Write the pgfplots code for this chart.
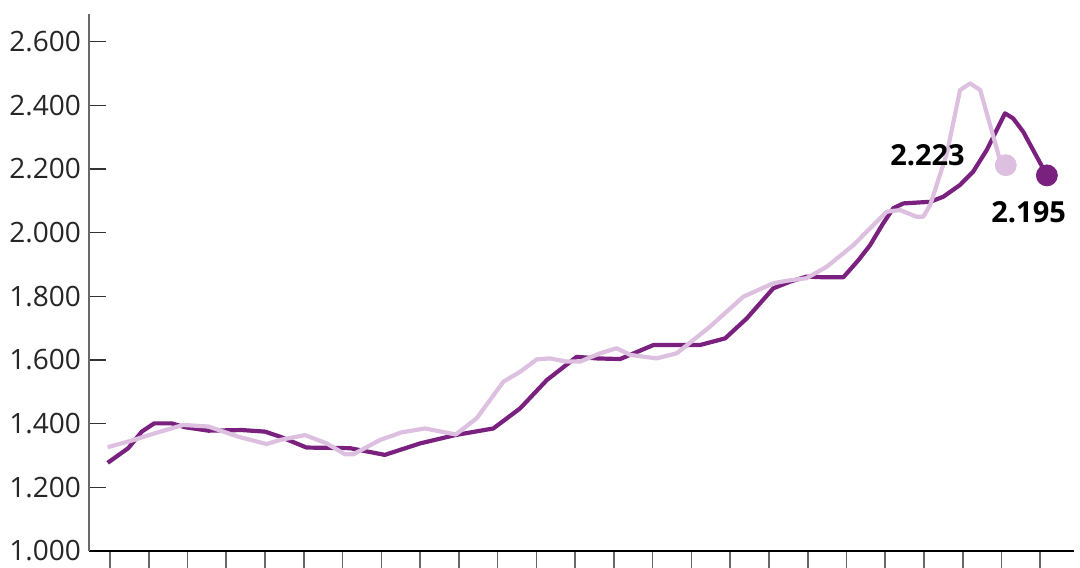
\documentclass[border=0pt]{standalone}
\usepackage{fontspec}
\setmainfont{Open Sans}
\usepackage{pgfplots}
\pgfplotsset{compat=1.18}
\definecolor{darkplum}{RGB}{122,33,128}
\definecolor{lightplum}{RGB}{221,191,224}
\definecolor{axisgray}{RGB}{105,105,105}

\begin{document}
\begin{tikzpicture}
\useasboundingbox (-44.5pt,-8pt) rectangle (495.5pt,275.5pt);
\begin{axis}[
    scale only axis,
    width=492.5pt, height=268.5pt,
    xmin=-0.542, xmax=24.87,
    ymin=1000, ymax=2687,
    axis lines*=left,
    x axis line style={-, black, line width=0.8pt},
    y axis line style={-, axisgray, line width=0.8pt},
    tick align=outside,
    major tick length=8.5pt,
    xtick={0,...,24},
    xticklabels={},
    x tick style={axisgray, line width=0.8pt},
    ytick={1000,1200,...,2600},
    y tick style={black!80, line width=0.8pt, xshift=8.5pt},
    yticklabel style={font=\fontsize{14}{16}\selectfont, text=black!85, anchor=east, xshift=8pt},
    scaled y ticks=false,
    /pgf/number format/.cd, 1000 sep={.}, assume math mode=true,
]
% dark line
\addplot[darkplum, line width=2.1pt, line join=round] coordinates {
    (-0.06,1277) (0.47,1323) (0.82,1375) (1.14,1401) (1.59,1401) (1.93,1389)
    (2.54,1378) (3.40,1380) (4.00,1375) (4.39,1359) (5.07,1325) (6.19,1323)
    (7.09,1302) (8.00,1338) (8.90,1364) (9.89,1385) (10.58,1448) (11.27,1537)
    (12.04,1610) (12.56,1605) (13.16,1603) (14.02,1647) (15.22,1647) (15.87,1668)
    (16.43,1731) (17.11,1825) (17.54,1846) (17.97,1862) (18.40,1860) (18.92,1860)
    (19.31,1914) (19.61,1961) (19.95,2030) (20.21,2077) (20.47,2092) (21.16,2097)
    (21.50,2113) (21.93,2150) (22.27,2192) (22.62,2260) (23.09,2375) (23.30,2359)
    (23.56,2317) (24.17,2180)
};
% light line
\addplot[lightplum, line width=2.1pt, line join=round] coordinates {
    (-0.06,1326) (0.56,1347) (1.16,1370) (1.89,1396) (2.54,1391) (3.31,1359)
    (4.04,1336) (4.39,1349) (5.03,1364) (5.59,1338) (6.06,1304) (6.28,1304)
    (6.97,1349) (7.53,1373) (8.13,1385) (8.92,1366) (9.46,1417) (10.15,1532)
    (10.58,1563) (11.01,1602) (11.35,1605) (11.78,1595) (12.13,1595) (12.64,1621)
    (13.07,1637) (13.42,1616) (14.10,1605) (14.62,1621) (15.48,1705) (16.34,1799)
    (17.11,1841) (17.46,1849) (17.97,1857) (18.49,1893) (19.18,1961) (19.61,2014)
    (20.04,2066) (20.38,2071) (20.81,2050) (20.98,2050) (21.16,2087) (21.59,2249)
    (21.93,2448) (22.19,2469) (22.45,2448) (22.96,2228) (23.11,2212)
};
% end dots
\addplot[only marks, mark=*, mark size=5.25pt, color=lightplum] coordinates {(23.11,2212)};
\addplot[only marks, mark=*, mark size=5.25pt, color=darkplum] coordinates {(24.17,2180)};
\node[font=\bfseries\fontsize{14.5}{16}\selectfont] at (axis cs:21.09,2244) {2.223};
\node[font=\bfseries\fontsize{14.5}{16}\selectfont] at (axis cs:23.70,2065) {2.195};
\end{axis}
\end{tikzpicture}
\end{document}
